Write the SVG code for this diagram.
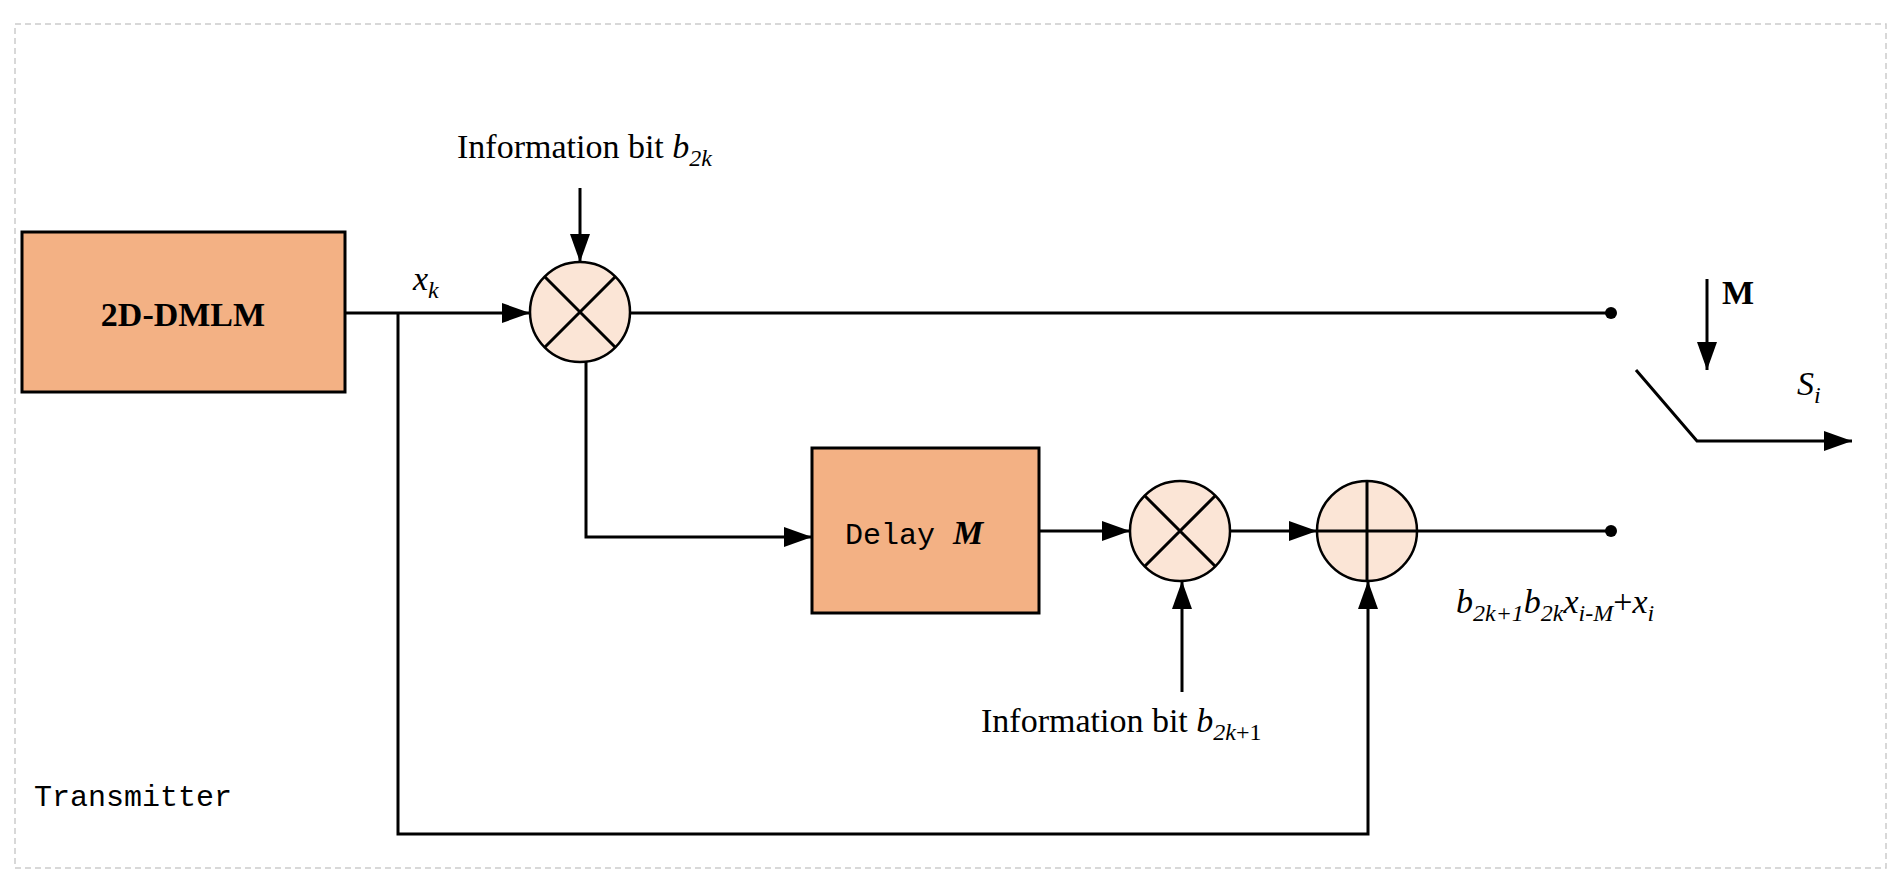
<svg xmlns="http://www.w3.org/2000/svg" width="1904" height="887" viewBox="0 0 1904 887">
<defs>
<marker id="ah" markerWidth="10" markerHeight="8" refX="10" refY="4" orient="auto" markerUnits="userSpaceOnUse" viewBox="0 0 10 8"><path d="M0,0 L10,4 L0,8 z" fill="#000"/></marker>
<marker id="ahl" markerWidth="28" markerHeight="20" refX="28" refY="10" orient="auto" markerUnits="userSpaceOnUse"><path d="M0,0 L28,10 L0,20 z" fill="#000"/></marker>
</defs>
<style>
.ln{stroke:#000;stroke-width:3;fill:none}
.box{fill:#F3B184;stroke:#000;stroke-width:3}
.cir{fill:#FBE5D6;stroke:#000;stroke-width:2.5}
.t{font-family:"Liberation Serif",serif;font-size:34px;fill:#000}
.i{font-style:italic}
.m{font-family:"Liberation Mono",monospace;font-size:30px;fill:#000}
</style>
<rect x="0" y="0" width="1904" height="887" fill="#fff"/>
<rect x="15" y="24" width="1871" height="844" fill="none" stroke="#ccc" stroke-width="1.5" stroke-dasharray="6,4"/>
<g id="dmlm"><rect class="box" x="22" y="232" width="323" height="160"/><text class="t" x="183" y="326" font-weight="bold" font-size="38" text-anchor="middle">2D-DMLM</text></g>
<g id="mult1"><circle class="cir" cx="580" cy="312" r="50"/><path class="ln" d="M545,277 L615,347 M615,277 L545,347" stroke-width="2.5"/></g>
<g id="delay"><rect class="box" x="812" y="448" width="227" height="165"/><text class="m" x="845" y="544">Delay <tspan font-family="Liberation Serif" font-style="italic" font-weight="bold" font-size="34">M</tspan></text></g>
<g id="mult2"><circle class="cir" cx="1180" cy="531" r="50"/><path class="ln" d="M1145,496 L1215,566 M1215,496 L1145,566" stroke-width="2.5"/></g>
<g id="add"><circle class="cir" cx="1367" cy="531" r="50"/><path class="ln" d="M1367,481 L1367,581 M1317,531 L1417,531" stroke-width="2.5"/></g>
<g id="connectors">
<path class="ln" d="M345,313 L530,313" marker-end="url(#ahl)"/>
<path class="ln" d="M580,188 L580,262" marker-end="url(#ahl)"/>
<path class="ln" d="M630,313 L1611,313"/>
<circle cx="1611" cy="313" r="6"/>
<path class="ln" d="M586,362 L586,537 L812,537" marker-end="url(#ahl)"/>
<path class="ln" d="M1039,531 L1130,531" marker-end="url(#ahl)"/>
<path class="ln" d="M1230,531 L1317,531" marker-end="url(#ahl)"/>
<path class="ln" d="M1417,531 L1611,531"/>
<circle cx="1611" cy="531" r="6"/>
<path class="ln" d="M1182,692 L1182,581" marker-end="url(#ahl)"/>
<path class="ln" d="M398,313 L398,834 L1368,834 L1368,581" marker-end="url(#ahl)"/>
<path class="ln" d="M1636,370 L1697,441 L1852,441" marker-end="url(#ahl)"/>
<path class="ln" d="M1707,279 L1707,370" marker-end="url(#ahl)"/>
</g>
<text class="t" x="457" y="158">Information bit <tspan class="i">b</tspan><tspan class="i" font-size="24" dy="8">2k</tspan></text>
<text class="t i" x="413" y="290">x<tspan font-size="24" dy="8">k</tspan></text>
<text class="t" x="981" y="732">Information bit <tspan class="i">b</tspan><tspan font-size="24" dy="8"><tspan class="i">2k</tspan>+1</tspan></text>
<text class="t i" x="1456" y="613">b<tspan font-size="24" dy="8">2k+1</tspan><tspan dy="-8">b</tspan><tspan font-size="24" dy="8">2k</tspan><tspan dy="-8">x</tspan><tspan font-size="24" dy="8">i-M</tspan><tspan dy="-8" font-style="normal">+</tspan>x<tspan font-size="24" dy="8">i</tspan></text>
<text class="t" x="1722" y="304" font-weight="bold">M</text>
<text class="t i" x="1797" y="395">S<tspan font-size="24" dy="8">i</tspan></text>
<text class="m" x="34" y="806">Transmitter</text>
</svg>
